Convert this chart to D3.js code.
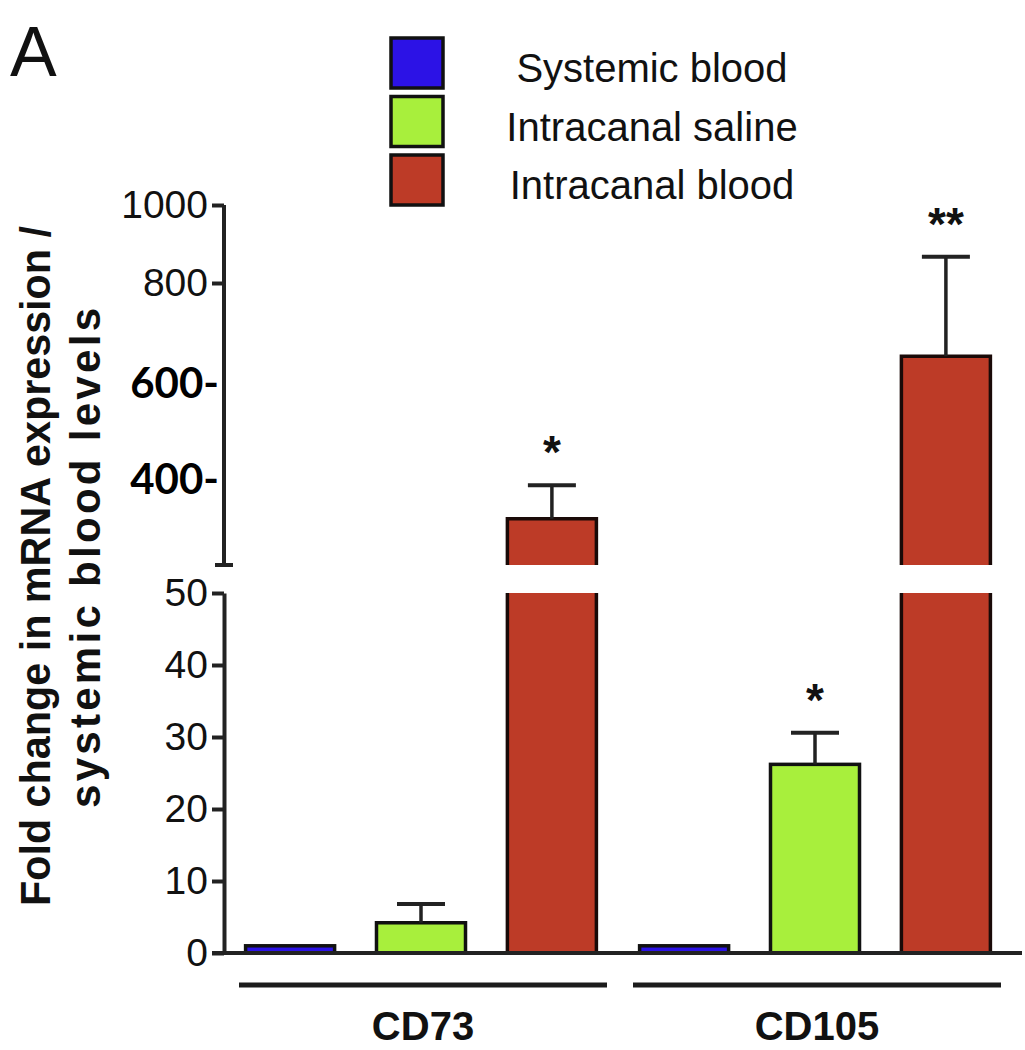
<!DOCTYPE html>
<html>
<head>
<meta charset="utf-8">
<script src="https://cdn.jsdelivr.net/npm/d3@7"></script>
<style>
  body { margin: 0; background: #fff; }
  text { font-family: "Liberation Sans", Arial, sans-serif; fill: #111; }
</style>
</head>
<body>
<div id="chart"></div>
<script>
// chart values
var groups = ["CD73", "CD105"];
var seriesNames = ["Systemic blood", "Intracanal saline", "Intracanal blood"];
var seriesColors = ["#2c12e6", "#a8ef3c", "#bd3b27"];

var systemicMean = [1, 1];
var systemicErr = [0, 0];
var salineMean = [4.2, 26.2];
var salineErr = [2.6, 4.4];
var bloodMean = [315, 652];
var bloodErr = [70, 215];
var salineStars = ["", "*"];
var bloodStars = ["*", "**"];

var lowerTicks = [0, 10, 20, 30, 40, 50];
var upperTicks = [800, 1000];
var upperBoldTicks = [600, 400];

var yTitle1 = "Fold change in mRNA  expression /";
var yTitle2 = "systemic blood levels";

var means = [systemicMean, salineMean, bloodMean];
var errs = [systemicErr, salineErr, bloodErr];
var stars = [["", ""], salineStars, bloodStars];

// flatten into one row per bar
var rows = [];
groups.forEach(function (g, i) {
    seriesNames.forEach(function (s, j) {
        rows.push({ group: g, series: s, color: seriesColors[j],
                    mean: means[j][i], err: errs[j][i], star: stars[j][i] });
    });
});

var svg = d3.select("#chart").append("svg")
    .attr("width", 1025)
    .attr("height", 1050);

// scales
var axisX = 224;
var x0 = d3.scaleBand().domain(groups).range([axisX, 1012]);
var x1 = d3.scaleBand().domain(seriesNames)
    .range([0, x0.bandwidth()])
    .paddingInner(0.32)
    .paddingOuter(0.165);

var yLow = d3.scaleLinear().domain([0, 50]).range([953, 593]);
// upper segment of the broken axis (the figure's labels are not evenly spaced)
var yUp = d3.scaleLinear().domain([400, 600, 800, 1000]).range([478, 382, 283, 205]);
var breakBottom = 565;
var lowMax = 50;

function yOf(v) { return v > lowMax ? yUp(v) : yLow(v); }

// panel letter
svg.append("text")
    .attr("x", 10).attr("y", 76)
    .style("font-size", "70px")
    .text("A");

// legend
var legend = svg.append("g").attr("class", "legend");
seriesNames.forEach(function (s, j) {
    var cy = 63 + j * 58.5;
    legend.append("rect")
        .attr("x", 391).attr("y", cy - 25)
        .attr("width", 52).attr("height", 50)
        .attr("fill", seriesColors[j])
        .attr("stroke", "#111").attr("stroke-width", 3.5);
    legend.append("text")
        .attr("x", 652).attr("y", cy + 5)
        .attr("text-anchor", "middle")
        .attr("dominant-baseline", "central")
        .style("font-size", "40px")
        .text(s);
});

// bars
var bars = svg.append("g").attr("class", "bars");
rows.forEach(function (d) {
    var x = x0(d.group) + x1(d.series), w = x1.bandwidth();
    if (d.mean <= lowMax) {
        bars.append("rect")
            .attr("x", x).attr("y", yLow(d.mean))
            .attr("width", w).attr("height", yLow(0) - yLow(d.mean))
            .attr("fill", d.color)
            .attr("stroke", "#111").attr("stroke-width", 3.5);
    } else {
        // lower piece, cut at the break
        bars.append("rect")
            .attr("x", x).attr("y", yLow(lowMax))
            .attr("width", w).attr("height", yLow(0) - yLow(lowMax))
            .attr("fill", d.color);
        bars.append("path")
            .attr("d", "M" + x + "," + yLow(lowMax) + "V" + yLow(0) +
                       "M" + (x + w) + "," + yLow(lowMax) + "V" + yLow(0))
            .attr("fill", "none").attr("stroke", "#1a0a08").attr("stroke-width", 3.5);
        // upper piece
        bars.append("rect")
            .attr("x", x).attr("y", yUp(d.mean))
            .attr("width", w).attr("height", breakBottom - yUp(d.mean))
            .attr("fill", d.color);
        bars.append("path")
            .attr("d", "M" + x + "," + breakBottom + "V" + yUp(d.mean) +
                       "H" + (x + w) + "V" + breakBottom)
            .attr("fill", "none").attr("stroke", "#1a0a08").attr("stroke-width", 3.5);
    }

    // error bar (upper only)
    if (d.err > 0) {
        var cx = x + w / 2;
        var top = yOf(d.mean + d.err);
        bars.append("line")
            .attr("x1", cx).attr("x2", cx)
            .attr("y1", yOf(d.mean)).attr("y2", top)
            .attr("stroke", "#222").attr("stroke-width", 3.5);
        bars.append("line")
            .attr("x1", cx - 24).attr("x2", cx + 24)
            .attr("y1", top).attr("y2", top)
            .attr("stroke", "#222").attr("stroke-width", 4);
        if (d.star) {
            bars.append("text")
                .attr("x", cx).attr("y", top - 17)
                .attr("text-anchor", "middle")
                .style("font-size", "46px").style("font-weight", "bold")
                .text(d.star);
        }
    }
});

// lower y axis
var lowAxis = svg.append("g")
    .attr("class", "axis y-low")
    .attr("transform", "translate(" + axisX + ",0)")
    .call(d3.axisLeft(yLow).tickValues(lowerTicks).tickSize(12).tickSizeOuter(0).tickPadding(4));

// upper y axis
var upAxis = svg.append("g")
    .attr("class", "axis y-up")
    .attr("transform", "translate(" + axisX + ",0)")
    .call(d3.axisLeft(yUp).tickValues(upperTicks).tickFormat(d3.format("d"))
        .tickSize(12).tickSizeOuter(0).tickPadding(4));
upAxis.select(".domain").remove();
upAxis.append("line")
    .attr("x1", 0).attr("x2", 0)
    .attr("y1", yUp(1000)).attr("y2", breakBottom);
upAxis.append("line")
    .attr("x1", -9).attr("x2", 9)
    .attr("y1", breakBottom).attr("y2", breakBottom);

svg.selectAll(".axis path, .axis line")
    .attr("stroke", "#222").attr("stroke-width", 4);
svg.selectAll(".axis text")
    .style("font-family", "'Liberation Sans', Arial, sans-serif")
    .style("font-size", "39px")
    .attr("fill", "#111");

// pasted-in bold labels on the upper segment
svg.append("g").selectAll("text")
    .data(upperBoldTicks)
    .enter().append("text")
    .attr("x", 219)
    .attr("y", function (v) { return yUp(v); })
    .attr("text-anchor", "end")
    .attr("dominant-baseline", "central")
    .style("font-family", "Lato, 'Noto Sans', sans-serif")
    .style("font-weight", "bold")
    .style("font-size", "42px")
    .style("fill", "#000")
    .text(function (v) { return v + "-"; });

// baseline
svg.append("line")
    .attr("x1", 212).attr("x2", 1022)
    .attr("y1", yLow(0)).attr("y2", yLow(0))
    .attr("stroke", "#222").attr("stroke-width", 4);

// group underlines and labels
groups.forEach(function (g) {
    svg.append("line")
        .attr("x1", x0(g) + 15).attr("x2", x0(g) + 383)
        .attr("y1", 985).attr("y2", 985)
        .attr("stroke", "#1c1c1c").attr("stroke-width", 5);
    svg.append("text")
        .attr("x", x0(g) + x0.bandwidth() / 2 + 2)
        .attr("y", 1040)
        .attr("text-anchor", "middle")
        .style("font-size", "40px").style("font-weight", "bold")
        .text(g);
});

// y title, two rotated lines
svg.append("text")
    .attr("transform", "translate(50,566) rotate(-90)")
    .attr("text-anchor", "middle")
    .attr("textLength", 680)
    .attr("lengthAdjust", "spacingAndGlyphs")
    .style("font-size", "42px").style("font-weight", "bold")
    .text(yTitle1);
svg.append("text")
    .attr("transform", "translate(100,558) rotate(-90)")
    .attr("text-anchor", "middle")
    .attr("textLength", 500)
    .style("font-size", "42px").style("font-weight", "bold")
    .text(yTitle2);
</script>
</body>
</html>
